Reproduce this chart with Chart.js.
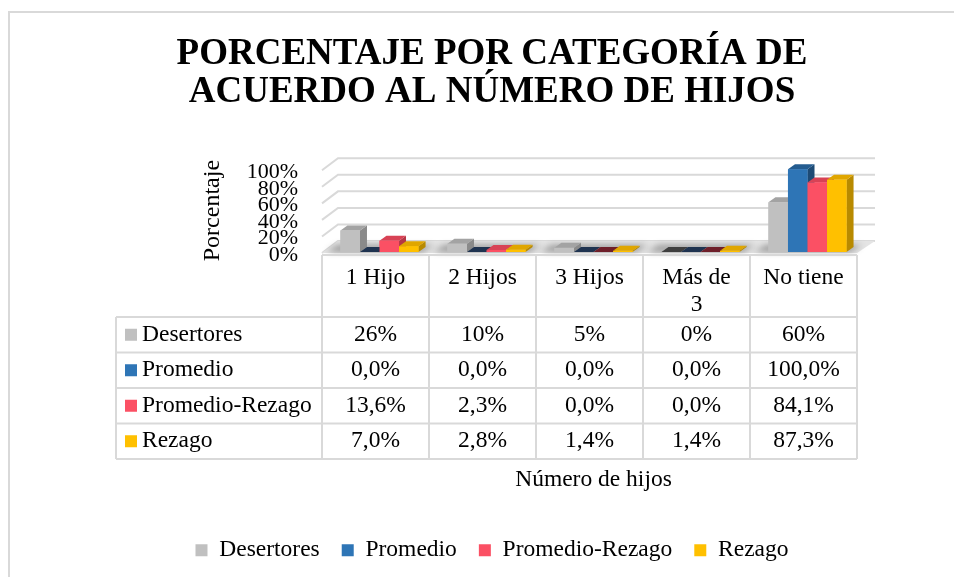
<!DOCTYPE html>
<html>
<head>
<meta charset="utf-8">
<script src="https://cdn.jsdelivr.net/npm/chart.js@4/dist/chart.umd.min.js"></script>
<style>
  body { margin: 0; background: #fff; }
  #wrap { width: 954px; height: 577px; }
</style>
</head>
<body>
<div id="wrap"><canvas id="chart"></canvas></div>
<script>
// data
let titleLines = ["PORCENTAJE POR CATEGORÍA DE", "ACUERDO AL NÚMERO DE HIJOS"];
let categories = ["1 Hijo", "2 Hijos", "3 Hijos", ["Más de", "3"], "No tiene"];
let seriesNames = ["Desertores", "Promedio", "Promedio-Rezago", "Rezago"];
let desertores = [26, 10, 5, 0, 60];
let promedio = [0, 0, 0, 0, 100];
let promedioRezago = [13.6, 2.3, 0, 0, 84.1];
let rezago = [7.0, 2.8, 1.4, 1.4, 87.3];
let decimals = [0, 1, 1, 1];
let yTitle = "Porcentaje";
let xTitle = "Número de hijos";
let yMax = 100;
let yStep = 20;

let seriesValues = [desertores, promedio, promedioRezago, rezago];

// front / top / side / flat (zero value) colours for each series
let palette = [
    { front: "#c0c0c0", top: "#a3a3a3", side: "#8a8a8a", flat: "#3f3f3f" },
    { front: "#2e75b6", top: "#245c90", side: "#1d4a75", flat: "#1f3350" },
    { front: "#fb5064", top: "#d84255", side: "#b53646", flat: "#6e1f2a" },
    { front: "#ffc000", top: "#e0a600", side: "#b88a00", flat: "#c99700" },
];

const dx = 7, dy = 5;
const lineCol = "#d9d9d9";
const serif = '"Liberation Serif", "Times New Roman", serif';

Chart.defaults.font.family = serif;
Chart.defaults.color = "#000";

let poly = (ctx, pts, fill) => {
    ctx.beginPath();
    ctx.moveTo(pts[0][0], pts[0][1]);
    pts.slice(1).forEach(p => ctx.lineTo(p[0], p[1]));
    ctx.closePath();
    ctx.fillStyle = fill;
    ctx.fill();
};

const background = {
    id: "background",
    beforeDraw(chart) {
        const { ctx, width, height } = chart;
        ctx.save();
        ctx.fillStyle = "#fff";
        ctx.fillRect(0, 0, width, height);
        ctx.strokeStyle = lineCol;
        ctx.lineWidth = 2;
        ctx.beginPath();
        ctx.moveTo(9, height);
        ctx.lineTo(9, 12);
        ctx.lineTo(width, 12);
        ctx.stroke();
        ctx.restore();
    }
};

const threeD = {
    id: "threeD",
    beforeDatasetsDraw(chart) {
        const { ctx, chartArea: a, scales: { y } } = chart;
        ctx.save();
        // back wall gridlines with the short side-wall diagonals
        ctx.strokeStyle = lineCol;
        ctx.lineWidth = 2;
        y.ticks.forEach(t => {
            let yb = y.getPixelForValue(t.value) - 11;
            ctx.beginPath();
            ctx.moveTo(a.left - 4, yb + 12);
            ctx.lineTo(a.left + 12, yb);
            ctx.lineTo(a.right + 14, yb);
            ctx.stroke();
        });
        // floor
        let base = y.getPixelForValue(0);
        poly(ctx, [[a.left - 4, base + 1], [a.right - 4, base + 1], [a.right + 14, base - 11], [a.left + 12, base - 11]], "#e4e4e4");
        // soft shadows under each group
        ctx.filter = "blur(3px)";
        let metas = chart.data.datasets.map((d, i) => chart.getDatasetMeta(i));
        categories.forEach((c, j) => {
            let first = metas[0].data[j], last = metas[metas.length - 1].data[j];
            let l = first.x - first.width / 2 - 14;
            let r = last.x + last.width / 2 + 4;
            poly(ctx, [[l, base], [r, base], [r + dx + 4, base - dy - 2], [l + dx + 4, base - dy - 2]], "rgba(0,0,0,0.32)");
        });
        ctx.filter = "none";
        ctx.restore();
    },
    afterDatasetsDraw(chart) {
        const { ctx } = chart;
        let metas = chart.data.datasets.map((d, i) => chart.getDatasetMeta(i));
        ctx.save();
        // left to right so each bar hides the side of the one before it
        categories.forEach((c, j) => {
            metas.forEach((meta, i) => {
                let bar = meta.data[j];
                let { x, y, base, width } = bar.getProps(["x", "y", "base", "width"], true);
                let l = x - width / 2, r = x + width / 2;
                let col = palette[i];
                let flat = base - y < 0.5;
                poly(ctx, [[r, y], [r + dx, y - dy], [r + dx, base - dy], [r, base]], flat ? col.flat : col.side);
                poly(ctx, [[l, y], [r, y], [r + dx, y - dy], [l + dx, y - dy]], flat ? col.flat : col.top);
                ctx.fillStyle = col.front;
                ctx.fillRect(l, y, width, base - y);
            });
        });
        ctx.restore();
    }
};

const dataTable = {
    id: "dataTable",
    afterDraw(chart) {
        const { ctx, chartArea: a, scales: { x } } = chart;
        let band = (a.right - a.left) / categories.length;
        let colX = categories.map((c, i) => x.getPixelForValue(i) - 4);
        let left = colX[0] - band / 2;
        let right = colX[colX.length - 1] + band / 2;
        let labelLeft = left - 206;
        let top = a.bottom + 3;
        let headH = 62, rowH = 35.5;
        let bottom = top + headH + rowH * seriesNames.length;

        ctx.save();
        ctx.strokeStyle = lineCol;
        ctx.lineWidth = 2;
        ctx.beginPath();
        // column lines
        colX.forEach(cx => {
            ctx.moveTo(cx - band / 2, top);
            ctx.lineTo(cx - band / 2, bottom);
        });
        ctx.moveTo(right, top);
        ctx.lineTo(right, bottom);
        ctx.moveTo(labelLeft, top + headH);
        ctx.lineTo(labelLeft, bottom);
        // row lines
        ctx.moveTo(left, top);
        ctx.lineTo(right, top);
        for (let r = 0; r <= seriesNames.length; r++) {
            let ry = top + headH + r * rowH;
            ctx.moveTo(labelLeft, ry);
            ctx.lineTo(right, ry);
        }
        ctx.stroke();

        ctx.fillStyle = "#000";
        ctx.font = "23.5px " + serif;
        ctx.textBaseline = "middle";
        ctx.textAlign = "center";
        // header
        categories.forEach((c, i) => {
            let lines = Array.isArray(c) ? c : [c];
            lines.forEach((ln, k) => ctx.fillText(ln, colX[i], top + 23 + k * 27));
        });
        // series rows
        seriesNames.forEach((name, s) => {
            let cy = top + headH + s * rowH + rowH / 2;
            ctx.fillStyle = palette[s].front;
            ctx.fillRect(labelLeft + 9, cy - 6, 12, 12);
            ctx.fillStyle = "#000";
            ctx.textAlign = "left";
            ctx.fillText(name, labelLeft + 26, cy);
            ctx.textAlign = "center";
            seriesValues[s].forEach((v, i) => {
                let txt = v.toFixed(decimals[s]).replace(".", ",") + "%";
                ctx.fillText(txt, colX[i], cy);
            });
        });
        ctx.restore();
    }
};

const ctx = document.getElementById("chart");

let chart = new Chart(ctx, {
    type: "bar",
    data: {
        labels: categories,
        datasets: seriesNames.map((name, i) => ({
            label: name,
            data: seriesValues[i],
            backgroundColor: palette[i].front,
            borderWidth: 0,
            categoryPercentage: 0.73,
            barPercentage: 1,
        }))
    },
    options: {
        responsive: true,
        maintainAspectRatio: false,
        animation: false,
        layout: { padding: { left: 123, right: 93, top: 0, bottom: 5 } },
        plugins: {
            title: {
                display: true,
                text: titleLines,
                color: "#000",
                font: { size: 37, weight: "bold", lineHeight: 1.03 },
                padding: { top: 35, bottom: 58 }
            },
            legend: {
                position: "bottom",
                labels: {
                    boxWidth: 12,
                    boxHeight: 12,
                    padding: 22,
                    color: "#000",
                    font: { size: 23.5 }
                }
            },
            tooltip: { enabled: false }
        },
        scales: {
            x: {
                grid: { display: false },
                border: { display: false },
                ticks: { display: false },
                title: { display: true, text: xTitle, font: { size: 23.5 }, padding: { top: 0, bottom: 22.5 } },
                afterFit: (s) => { s.height = 264.5; }
            },
            y: {
                min: 0,
                max: yMax,
                grid: { display: false, drawTicks: false },
                border: { display: false },
                ticks: {
                    stepSize: yStep,
                    autoSkip: false,
                    padding: 28,
                    labelOffset: 3,
                    font: { size: 22 },
                    callback: (v) => v + "%"
                },
                title: { display: true, text: yTitle, font: { size: 24 }, padding: { top: 75, bottom: 0 } },
                afterFit: (s) => { s.width = 203; }
            }
        }
    },
    plugins: [background, threeD, dataTable]
});
</script>
</body>
</html>
